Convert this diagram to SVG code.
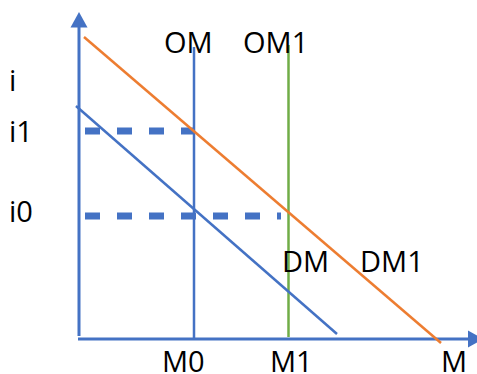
<svg xmlns="http://www.w3.org/2000/svg" width="477" height="374" viewBox="0 0 477 374">
<style>
text{font-family:"Open Sans","Noto Sans","DejaVu Sans",sans-serif;font-size:29px;fill:#000}
.ax{stroke:#4472C4;stroke-width:3;fill:none}
.blue{stroke:#4472C4;stroke-width:2.5;fill:none}
.org{stroke:#ED7D31;stroke-width:2.5;fill:none}
.grn{stroke:#70AD47;stroke-width:2.5;fill:none}
.dash{stroke:#4472C4;stroke-width:7;stroke-dasharray:15 17;fill:none}
</style>
<rect width="477" height="374" fill="#fff"/>
<g id="axes">
<line class="ax" x1="79" y1="336" x2="79" y2="24"/>
<polygon points="79,12 87.5,27.5 70.5,27.5" fill="#4472C4"/>
<line class="ax" x1="78" y1="339" x2="470" y2="339"/>
<polygon points="483,339 468,330.5 468,347.5" fill="#4472C4"/>
</g>
<g id="connectors">
<line class="dash" x1="85" y1="131" x2="194" y2="131"/>
<line class="dash" x1="85" y1="216" x2="281" y2="216"/>
<line id="OM-line" class="blue" x1="194" y1="47" x2="194" y2="339"/>
<line id="OM1-line" class="grn" x1="288.5" y1="45" x2="288.5" y2="337"/>
<line id="DM-line" class="blue" x1="76" y1="106" x2="337" y2="334"/>
<line id="DM1-line" class="org" x1="84" y1="37" x2="441" y2="343"/>
</g>
<g id="labels">
<text x="9" y="91">i</text>
<text x="9" y="142">i1</text>
<text x="9" y="222">i0</text>
<text x="164" y="53">OM</text>
<text x="243" y="53">OM1</text>
<text x="282" y="272">DM</text>
<text x="360" y="272">DM1</text>
<text x="162" y="372">M0</text>
<text x="270" y="372">M1</text>
<text x="441" y="372">M</text>
</g>
</svg>
